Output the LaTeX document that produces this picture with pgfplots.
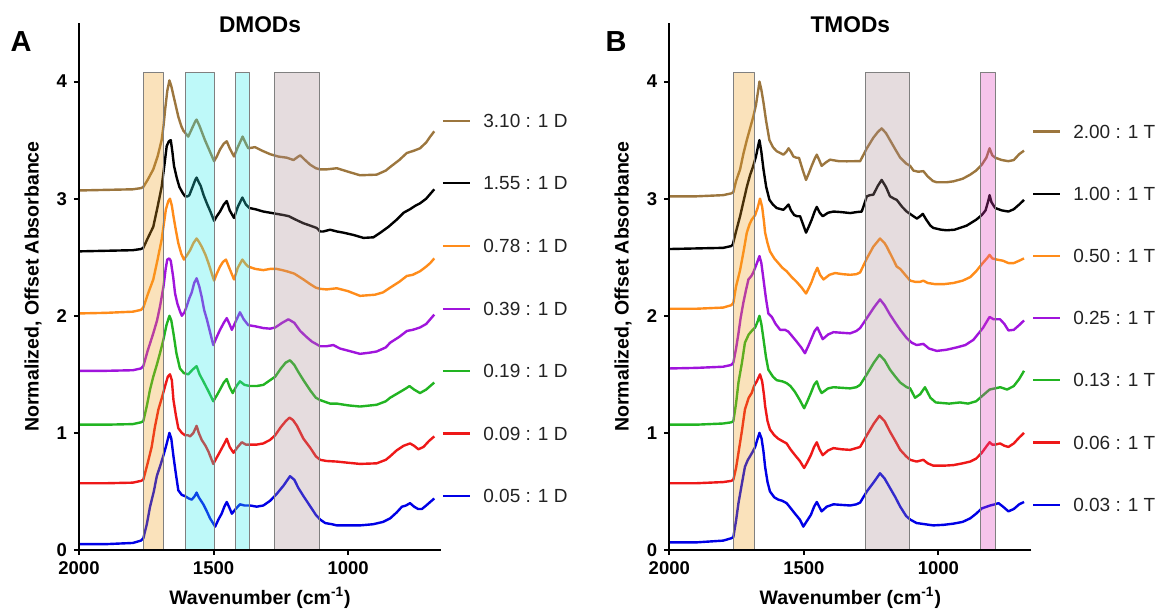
\documentclass[border=0pt]{standalone}
\usepackage{fontspec}
\setmainfont{Liberation Sans}
\usepackage{pgfplots}
\pgfplotsset{compat=1.18}
\newcommand\fs[1]{\fontsize{#1}{#1}\selectfont}
\definecolor{cbrown}{RGB}{156,118,62}
\definecolor{corange}{RGB}{255,140,26}
\definecolor{cpurple}{RGB}{160,20,220}
\definecolor{cgreen}{RGB}{34,180,34}
\definecolor{cred}{RGB}{238,24,24}
\definecolor{cblue}{RGB}{0,0,230}
\definecolor{shorange}{RGB}{240,160,30}
\definecolor{shcyan}{RGB}{40,235,235}
\definecolor{shgray}{RGB}{170,140,145}
\definecolor{shpink}{RGB}{225,60,190}
\definecolor{legtext}{RGB}{34,34,34}
\pgfplotsset{
 myaxis/.style={
  scale only axis, width=181pt, height=263.5pt,
  x dir=reverse, xmin=655, xmax=2000, ymin=0, ymax=4.5,
  axis x line*=bottom, axis y line*=left,
  axis line style={line width=1pt},
  xtick={1000,1500,2000}, ytick={0,1,2,3,4},
  tick align=outside, major tick length=2.5pt,
  tick style={line width=1pt, black},
  ticklabel style={font=\bfseries\fs{9.25}},
  /pgf/number format/assume math mode=true,
  /pgf/number format/1000 sep={},
  clip=false, axis on top,
  every axis plot/.append style={line width=1.2pt, line join=round},
 },
 shade/.style={draw=gray, line width=0.5pt, fill=#1, fill opacity=0.3},
}
\newcommand\legA[3]{%
 \draw[#1, line width=1.1pt] (axis description cs:1.0055,#2) -- (axis description cs:1.080,#2);
 \node[anchor=west, inner sep=0pt, font=\fs{9.5}, text=legtext] at (axis description cs:1.116,#2) {#3};}
\newcommand\legB[3]{%
 \draw[#1, line width=1.1pt] (axis description cs:1.0047,#2) -- (axis description cs:1.0793,#2);
 \node[anchor=west, inner sep=0pt, font=\fs{9.5}, text=legtext] at (axis description cs:1.115,#2) {#3};}
\begin{document}
\begin{tikzpicture}
\path[use as bounding box] (-39.5pt,-29.5pt) rectangle (539pt,275pt);
% ---------------- Panel A ----------------
\begin{axis}[myaxis, at={(0pt,0pt)}, anchor=south west]
\addplot[cblue] coordinates {(2000,0.05) (1900,0.05) (1800,0.06) (1770,0.08) (1761,0.10) (1748,0.22) (1736,0.37) (1722,0.50) (1711,0.63) (1698,0.72) (1686,0.81) (1675,0.90) (1664,1.00) (1657,0.95) (1649,0.80) (1640,0.65) (1631,0.51) (1618,0.47) (1606,0.46) (1592,0.44) (1581,0.43) (1570,0.46) (1563,0.49) (1555,0.45) (1538,0.39) (1525,0.33) (1513,0.27) (1494,0.20) (1482,0.26) (1470,0.31) (1460,0.37) (1451,0.41) (1441,0.36) (1432,0.31) (1418,0.35) (1402,0.39) (1385,0.38) (1364,0.38) (1340,0.37) (1315,0.38) (1290,0.42) (1265,0.48) (1240,0.55) (1216,0.63) (1200,0.60) (1185,0.53) (1166,0.46) (1140,0.37) (1120,0.30) (1104,0.26) (1085,0.23) (1060,0.22) (1042,0.21) (1000,0.21) (956,0.21) (907,0.22) (870,0.24) (844,0.27) (820,0.32) (800,0.37) (785,0.38) (770,0.40) (755,0.37) (740,0.35) (726,0.35) (710,0.38) (695,0.41) (680,0.44)};
\addplot[cred] coordinates {(2000,0.57) (1900,0.57) (1800,0.575) (1770,0.59) (1761,0.60) (1745,0.74) (1730,0.88) (1718,1.05) (1705,1.20) (1692,1.30) (1680,1.40) (1670,1.48) (1662,1.50) (1655,1.45) (1649,1.28) (1640,1.15) (1631,1.04) (1618,1.00) (1606,0.98) (1595,0.98) (1587,0.97) (1575,1.00) (1563,1.06) (1555,1.00) (1544,0.94) (1530,0.89) (1519,0.84) (1501,0.735) (1488,0.79) (1476,0.84) (1462,0.90) (1451,0.95) (1440,0.88) (1426,0.83) (1410,0.88) (1395,0.92) (1380,0.90) (1364,0.90) (1340,0.90) (1315,0.91) (1290,0.94) (1271,0.98) (1250,1.05) (1232,1.10) (1218,1.13) (1205,1.11) (1190,1.06) (1166,0.95) (1140,0.87) (1120,0.80) (1104,0.77) (1080,0.76) (1042,0.755) (1000,0.745) (956,0.735) (894,0.74) (860,0.77) (844,0.80) (820,0.85) (794,0.89) (770,0.91) (755,0.89) (739,0.86) (720,0.88) (700,0.93) (680,0.97)};
\addplot[cgreen] coordinates {(2000,1.07) (1900,1.07) (1800,1.075) (1770,1.09) (1761,1.10) (1748,1.23) (1736,1.37) (1724,1.48) (1711,1.58) (1698,1.69) (1686,1.80) (1675,1.92) (1664,2.00) (1657,1.96) (1649,1.85) (1638,1.68) (1625,1.55) (1610,1.51) (1594,1.50) (1578,1.54) (1563,1.57) (1552,1.50) (1538,1.44) (1520,1.36) (1501,1.27) (1488,1.32) (1476,1.37) (1462,1.43) (1451,1.46) (1440,1.39) (1429,1.34) (1415,1.40) (1402,1.44) (1385,1.41) (1364,1.40) (1340,1.40) (1315,1.41) (1290,1.45) (1271,1.48) (1250,1.55) (1232,1.60) (1216,1.62) (1200,1.58) (1185,1.52) (1166,1.45) (1140,1.36) (1120,1.30) (1104,1.28) (1067,1.25) (1042,1.25) (1000,1.235) (956,1.225) (894,1.24) (860,1.27) (844,1.30) (807,1.35) (785,1.38) (772,1.40) (755,1.37) (733,1.34) (710,1.37) (695,1.40) (680,1.43)};
\addplot[cpurple] coordinates {(2000,1.53) (1900,1.53) (1800,1.535) (1770,1.55) (1761,1.57) (1745,1.70) (1724,1.85) (1710,1.96) (1699,2.08) (1686,2.25) (1678,2.40) (1672,2.48) (1665,2.49) (1659,2.47) (1650,2.33) (1643,2.19) (1634,2.10) (1625,2.04) (1618,2.00) (1608,2.03) (1600,2.08) (1590,2.15) (1581,2.20) (1572,2.28) (1563,2.32) (1553,2.25) (1544,2.16) (1535,2.05) (1525,1.97) (1513,1.86) (1501,1.75) (1488,1.82) (1476,1.88) (1462,1.94) (1451,1.98) (1441,1.93) (1432,1.88) (1418,1.95) (1402,2.03) (1388,1.97) (1371,1.92) (1345,1.91) (1315,1.895) (1290,1.89) (1271,1.90) (1245,1.94) (1222,1.97) (1200,1.94) (1178,1.87) (1155,1.82) (1135,1.78) (1104,1.74) (1080,1.74) (1055,1.75) (1030,1.72) (1005,1.705) (956,1.675) (920,1.685) (894,1.695) (860,1.73) (844,1.77) (810,1.82) (782,1.87) (760,1.88) (733,1.90) (710,1.93) (695,1.97) (680,2.01)};
\addplot[corange] coordinates {(2000,2.02) (1900,2.025) (1800,2.035) (1770,2.05) (1761,2.07) (1745,2.18) (1724,2.31) (1708,2.48) (1693,2.65) (1685,2.78) (1677,2.91) (1668,2.98) (1662,3.00) (1655,2.94) (1649,2.85) (1640,2.73) (1631,2.62) (1620,2.53) (1610,2.48) (1598,2.52) (1587,2.56) (1575,2.62) (1563,2.66) (1554,2.63) (1544,2.59) (1530,2.52) (1519,2.45) (1508,2.37) (1498,2.30) (1488,2.36) (1476,2.42) (1465,2.46) (1454,2.48) (1440,2.40) (1424,2.31) (1410,2.41) (1393,2.48) (1380,2.44) (1371,2.42) (1345,2.40) (1315,2.39) (1290,2.40) (1265,2.40) (1245,2.39) (1228,2.38) (1200,2.36) (1166,2.31) (1141,2.27) (1120,2.24) (1104,2.23) (1080,2.225) (1042,2.235) (1000,2.21) (956,2.17) (900,2.18) (870,2.20) (844,2.24) (810,2.29) (782,2.34) (760,2.35) (733,2.38) (710,2.42) (695,2.45) (680,2.49)};
\addplot[black] coordinates {(2000,2.55) (1900,2.555) (1800,2.56) (1770,2.57) (1761,2.58) (1745,2.66) (1724,2.76) (1708,2.93) (1693,3.10) (1682,3.30) (1674,3.45) (1666,3.49) (1659,3.50) (1653,3.40) (1647,3.28) (1637,3.18) (1627,3.10) (1615,3.05) (1606,3.02) (1596,3.02) (1590,3.03) (1578,3.10) (1568,3.16) (1563,3.18) (1555,3.14) (1548,3.11) (1537,3.03) (1525,2.96) (1510,2.88) (1498,2.81) (1488,2.85) (1476,2.89) (1462,2.95) (1451,2.98) (1440,2.90) (1424,2.835) (1410,2.93) (1393,3.01) (1380,2.95) (1367,2.92) (1345,2.91) (1315,2.89) (1290,2.88) (1265,2.87) (1240,2.86) (1220,2.85) (1203,2.83) (1185,2.81) (1166,2.79) (1141,2.77) (1117,2.75) (1104,2.72) (1092,2.72) (1067,2.735) (1042,2.72) (1018,2.71) (980,2.69) (943,2.665) (906,2.67) (880,2.71) (850,2.76) (820,2.82) (794,2.88) (770,2.91) (750,2.94) (733,2.96) (710,3.00) (695,3.04) (680,3.08)};
\addplot[cbrown] coordinates {(2000,3.07) (1900,3.075) (1800,3.08) (1770,3.09) (1761,3.10) (1745,3.16) (1724,3.25) (1708,3.36) (1693,3.50) (1686,3.62) (1680,3.76) (1672,3.92) (1664,4.01) (1657,3.96) (1649,3.88) (1640,3.79) (1631,3.70) (1620,3.62) (1612,3.58) (1594,3.53) (1580,3.60) (1568,3.66) (1563,3.675) (1552,3.62) (1532,3.50) (1515,3.41) (1498,3.32) (1488,3.36) (1476,3.42) (1462,3.47) (1451,3.49) (1440,3.43) (1424,3.36) (1410,3.44) (1392,3.53) (1380,3.47) (1371,3.43) (1346,3.44) (1320,3.41) (1290,3.38) (1260,3.36) (1228,3.35) (1203,3.33) (1185,3.36) (1178,3.37) (1160,3.33) (1141,3.29) (1120,3.26) (1104,3.25) (1080,3.25) (1042,3.26) (1000,3.23) (956,3.20) (894,3.205) (860,3.24) (844,3.27) (810,3.33) (782,3.39) (755,3.41) (733,3.43) (710,3.48) (695,3.53) (680,3.575)};
% shaded bands
\addplot[shade=shorange] coordinates {(1760,0) (1760,4.08) (1685,4.08) (1685,0) (1760,0)};
\addplot[shade=shcyan] coordinates {(1605,0) (1605,4.08) (1498,4.08) (1498,0) (1605,0)};
\addplot[shade=shcyan] coordinates {(1420,0) (1420,4.08) (1367,4.08) (1367,0) (1420,0)};
\addplot[shade=shgray] coordinates {(1273,0) (1273,4.08) (1106,4.08) (1106,0) (1273,0)};
% legend
\legA{cbrown}{0.814}{3.10 : 1 D}
\legA{black}{0.696}{1.55 : 1 D}
\legA{corange}{0.577}{0.78 : 1 D}
\legA{cpurple}{0.458}{0.39 : 1 D}
\legA{cgreen}{0.340}{0.19 : 1 D}
\legA{cred}{0.221}{0.09 : 1 D}
\legA{cblue}{0.1025}{0.05 : 1 D}
% labels
\node[font=\bfseries\fs{11.35}] at (axis description cs:0.5,0.996) {DMODs};
\node[font=\bfseries\fs{14.5}] at (axis description cs:-0.160,0.964) {A};
\node[font=\bfseries\fs{9.75}, rotate=90] at (axis description cs:-0.127,0.5) {Normalized, Offset Absorbance};
\node[font=\bfseries\fs{9.75}] at (axis description cs:0.5,-0.091) {Wavenumber (cm\textsuperscript{-1})};
\end{axis}
% ---------------- Panel B ----------------
\begin{axis}[myaxis, at={(295.15pt,0pt)}, anchor=south west]
\addplot[cblue] coordinates {(2000,0.065) (1900,0.065) (1800,0.08) (1770,0.10) (1762,0.11) (1752,0.25) (1743,0.40) (1730,0.57) (1719,0.71) (1708,0.77) (1700,0.80) (1690,0.84) (1681,0.88) (1672,0.95) (1665,1.00) (1657,0.95) (1650,0.84) (1644,0.71) (1635,0.58) (1626,0.50) (1610,0.45) (1595,0.43) (1580,0.42) (1564,0.40) (1550,0.36) (1533,0.31) (1515,0.26) (1502,0.20) (1488,0.25) (1474,0.30) (1462,0.37) (1452,0.41) (1443,0.37) (1434,0.33) (1415,0.37) (1390,0.39) (1360,0.385) (1328,0.38) (1305,0.39) (1291,0.405) (1266,0.50) (1240,0.58) (1217,0.655) (1200,0.61) (1180,0.53) (1160,0.45) (1142,0.37) (1120,0.29) (1105,0.26) (1081,0.23) (1050,0.22) (1019,0.21) (980,0.215) (944,0.225) (910,0.24) (882,0.27) (860,0.31) (839,0.355) (808,0.38) (790,0.39) (777,0.40) (760,0.37) (740,0.33) (720,0.35) (700,0.39) (682,0.41)};
\addplot[cred] coordinates {(2000,0.57) (1900,0.57) (1800,0.58) (1770,0.59) (1762,0.60) (1752,0.70) (1743,0.83) (1730,1.02) (1719,1.20) (1705,1.30) (1694,1.34) (1685,1.40) (1675,1.44) (1663,1.50) (1655,1.44) (1648,1.32) (1644,1.23) (1635,1.10) (1626,1.03) (1610,0.98) (1595,0.95) (1580,0.93) (1564,0.91) (1550,0.86) (1533,0.81) (1515,0.76) (1499,0.70) (1487,0.75) (1474,0.81) (1462,0.88) (1452,0.92) (1442,0.86) (1430,0.81) (1410,0.85) (1390,0.87) (1360,0.86) (1328,0.855) (1305,0.87) (1291,0.88) (1266,0.98) (1240,1.08) (1219,1.146) (1200,1.10) (1180,1.01) (1160,0.93) (1142,0.855) (1120,0.80) (1105,0.77) (1081,0.755) (1056,0.77) (1040,0.74) (1019,0.72) (980,0.72) (944,0.725) (910,0.74) (882,0.755) (860,0.78) (839,0.83) (820,0.89) (810,0.92) (800,0.90) (789,0.90) (771,0.91) (755,0.89) (740,0.88) (720,0.91) (700,0.96) (682,1.00)};
\addplot[cgreen] coordinates {(2000,1.07) (1900,1.07) (1800,1.08) (1770,1.09) (1762,1.10) (1752,1.25) (1743,1.43) (1730,1.60) (1719,1.77) (1705,1.84) (1694,1.87) (1681,1.90) (1672,1.95) (1665,2.00) (1658,1.93) (1650,1.80) (1641,1.65) (1632,1.54) (1615,1.48) (1601,1.45) (1580,1.44) (1564,1.425) (1550,1.40) (1533,1.35) (1515,1.28) (1499,1.21) (1487,1.27) (1474,1.34) (1462,1.41) (1452,1.44) (1443,1.38) (1434,1.34) (1410,1.38) (1390,1.39) (1360,1.385) (1328,1.38) (1305,1.39) (1291,1.41) (1266,1.50) (1240,1.60) (1219,1.667) (1200,1.62) (1180,1.54) (1160,1.48) (1142,1.43) (1118,1.39) (1105,1.38) (1087,1.30) (1068,1.33) (1050,1.39) (1030,1.30) (1010,1.26) (960,1.25) (920,1.26) (890,1.25) (860,1.27) (835,1.32) (810,1.37) (790,1.38) (770,1.39) (745,1.37) (720,1.40) (700,1.46) (682,1.53)};
\addplot[cpurple] coordinates {(2000,1.55) (1900,1.555) (1800,1.565) (1770,1.58) (1762,1.60) (1752,1.72) (1743,1.85) (1735,1.98) (1725,2.11) (1715,2.22) (1706,2.31) (1695,2.34) (1688,2.37) (1676,2.44) (1665,2.51) (1658,2.45) (1650,2.31) (1641,2.15) (1632,2.02) (1619,1.99) (1605,1.93) (1588,1.88) (1570,1.88) (1558,1.865) (1545,1.83) (1527,1.78) (1510,1.73) (1496,1.68) (1484,1.74) (1471,1.81) (1460,1.87) (1450,1.90) (1440,1.85) (1430,1.80) (1410,1.84) (1390,1.86) (1360,1.855) (1328,1.85) (1305,1.87) (1291,1.895) (1266,1.98) (1240,2.07) (1217,2.14) (1200,2.09) (1180,2.01) (1160,1.94) (1142,1.88) (1118,1.81) (1099,1.77) (1081,1.75) (1056,1.76) (1035,1.72) (1006,1.70) (970,1.71) (932,1.73) (900,1.75) (870,1.795) (835,1.895) (810,1.99) (795,1.97) (771,1.97) (755,1.93) (740,1.875) (720,1.88) (700,1.92) (682,1.96)};
\addplot[corange] coordinates {(2000,2.06) (1900,2.06) (1800,2.07) (1770,2.09) (1762,2.11) (1752,2.25) (1737,2.39) (1724,2.55) (1712,2.71) (1702,2.78) (1694,2.82) (1681,2.86) (1672,2.92) (1663,3.00) (1655,2.93) (1648,2.80) (1644,2.71) (1635,2.62) (1626,2.55) (1610,2.49) (1595,2.45) (1580,2.41) (1564,2.38) (1545,2.33) (1527,2.29) (1508,2.24) (1492,2.19) (1481,2.24) (1471,2.29) (1460,2.36) (1450,2.41) (1440,2.35) (1427,2.31) (1405,2.35) (1384,2.365) (1355,2.355) (1328,2.35) (1305,2.355) (1291,2.37) (1266,2.49) (1242,2.59) (1217,2.66) (1200,2.62) (1192,2.59) (1170,2.49) (1155,2.42) (1142,2.40) (1120,2.34) (1105,2.30) (1087,2.29) (1068,2.29) (1056,2.30) (1040,2.28) (1012,2.27) (980,2.27) (944,2.28) (910,2.30) (882,2.33) (860,2.38) (839,2.44) (820,2.49) (810,2.52) (800,2.49) (783,2.48) (760,2.47) (740,2.45) (720,2.45) (700,2.47) (682,2.49)};
\addplot[black] coordinates {(2000,2.57) (1900,2.575) (1800,2.58) (1770,2.595) (1764,2.61) (1752,2.72) (1737,2.85) (1724,2.98) (1712,3.10) (1700,3.20) (1688,3.28) (1678,3.36) (1670,3.45) (1665,3.50) (1658,3.40) (1650,3.25) (1640,3.10) (1628,2.99) (1615,2.95) (1601,2.92) (1585,2.91) (1576,2.905) (1565,2.93) (1557,2.95) (1548,2.90) (1536,2.86) (1525,2.85) (1514,2.85) (1503,2.78) (1492,2.71) (1482,2.76) (1471,2.82) (1460,2.89) (1452,2.93) (1441,2.88) (1430,2.85) (1410,2.88) (1390,2.89) (1360,2.885) (1328,2.877) (1305,2.885) (1285,2.89) (1266,3.02) (1255,3.03) (1242,3.034) (1225,3.11) (1211,3.16) (1195,3.10) (1180,3.02) (1165,3.00) (1155,2.99) (1135,2.93) (1118,2.89) (1093,2.85) (1080,2.83) (1068,2.85) (1058,2.87) (1045,2.82) (1030,2.77) (1019,2.75) (990,2.735) (969,2.73) (940,2.735) (895,2.77) (860,2.82) (839,2.86) (825,2.90) (815,2.98) (810,3.03) (803,2.97) (789,2.92) (765,2.90) (740,2.89) (720,2.91) (700,2.95) (682,2.99)};
\addplot[cbrown] coordinates {(2000,3.02) (1900,3.02) (1800,3.03) (1770,3.045) (1762,3.055) (1752,3.15) (1737,3.25) (1725,3.38) (1712,3.50) (1700,3.60) (1688,3.70) (1678,3.80) (1670,3.92) (1665,4.00) (1658,3.93) (1650,3.82) (1640,3.66) (1628,3.50) (1615,3.44) (1601,3.405) (1588,3.39) (1576,3.376) (1565,3.40) (1557,3.43) (1548,3.40) (1539,3.36) (1528,3.35) (1518,3.348) (1505,3.25) (1492,3.16) (1481,3.22) (1471,3.28) (1460,3.34) (1452,3.376) (1443,3.33) (1434,3.28) (1418,3.31) (1403,3.333) (1370,3.32) (1341,3.319) (1310,3.32) (1291,3.32) (1266,3.43) (1242,3.52) (1225,3.57) (1211,3.60) (1195,3.56) (1180,3.50) (1160,3.42) (1142,3.35) (1120,3.30) (1105,3.28) (1093,3.24) (1075,3.23) (1056,3.235) (1040,3.19) (1020,3.15) (1006,3.14) (970,3.14) (944,3.148) (910,3.17) (882,3.205) (860,3.24) (839,3.29) (822,3.35) (810,3.43) (800,3.37) (789,3.35) (765,3.33) (740,3.32) (720,3.33) (700,3.38) (682,3.41)};
% shaded bands
\addplot[shade=shorange] coordinates {(1760,0) (1760,4.08) (1684,4.08) (1684,0) (1760,0)};
\addplot[shade=shgray] coordinates {(1272,0) (1272,4.08) (1106,4.08) (1106,0) (1272,0)};
\addplot[shade=shpink] coordinates {(842,0) (842,4.08) (787,4.08) (787,0) (842,0)};
% legend
\legB{cbrown}{0.794}{2.00 : 1 T}
\legB{black}{0.676}{1.00 : 1 T}
\legB{corange}{0.558}{0.50 : 1 T}
\legB{cpurple}{0.440}{0.25 : 1 T}
\legB{cgreen}{0.322}{0.13 : 1 T}
\legB{cred}{0.204}{0.06 : 1 T}
\legB{cblue}{0.0854}{0.03 : 1 T}
% labels
\node[font=\bfseries\fs{11.35}] at (axis description cs:0.5,0.996) {TMODs};
\node[font=\bfseries\fs{14.5}] at (axis description cs:-0.147,0.964) {B};
\node[font=\bfseries\fs{9.75}, rotate=90] at (axis description cs:-0.128,0.5) {Normalized, Offset Absorbance};
\node[font=\bfseries\fs{9.75}] at (axis description cs:0.5,-0.091) {Wavenumber (cm\textsuperscript{-1})};
\end{axis}
\end{tikzpicture}
\end{document}
